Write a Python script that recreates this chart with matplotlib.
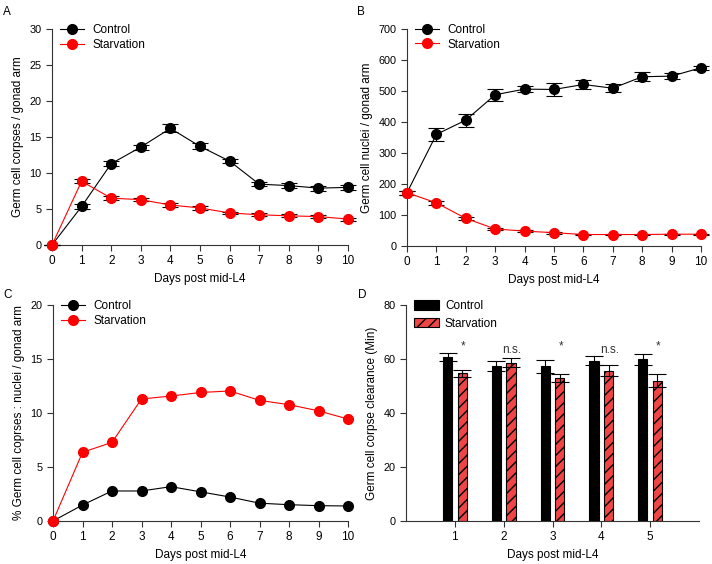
import numpy as np
import matplotlib.pyplot as plt

days = np.arange(0, 11)

# A: germ cell corpses / gonad arm
corpses_ctrl = [0, 5.35, 11.3, 13.6, 16.2, 13.7, 11.65, 8.45, 8.25, 7.9, 8.0]
corpses_ctrl_err = [0, 0.35, 0.3, 0.35, 0.55, 0.4, 0.3, 0.3, 0.3, 0.35, 0.3]
corpses_starv = [0, 8.85, 6.5, 6.3, 5.55, 5.15, 4.45, 4.2, 4.05, 3.95, 3.6]
corpses_starv_err = [0, 0.3, 0.25, 0.25, 0.25, 0.25, 0.2, 0.2, 0.2, 0.2, 0.2]

# B: germ cell nuclei / gonad arm
nuclei_ctrl = [172, 360, 406, 488, 506, 505, 521, 509, 546, 548, 575]
nuclei_ctrl_err = [6, 22, 21, 20, 10, 20, 16, 12, 15, 9, 7]
nuclei_starv = [172, 139, 89, 55, 48, 43, 37, 37, 37, 38, 38]
nuclei_starv_err = [6, 7, 6, 4, 3, 3, 2, 2, 2, 2, 2]

# C: % corpses : nuclei
pct_ctrl = [0, 1.48, 2.78, 2.78, 3.18, 2.7, 2.22, 1.65, 1.51, 1.42, 1.39]
pct_starv = [0, 6.36, 7.28, 11.3, 11.57, 11.9, 12.04, 11.17, 10.77, 10.2, 9.44]

# D: clearance time
clear_days = [1, 2, 3, 4, 5]
clear_ctrl = [60.7, 57.5, 57.4, 59.4, 59.9]
clear_ctrl_err = [1.5, 1.8, 2.4, 1.8, 2.1]
clear_starv = [54.7, 58.7, 53.0, 55.7, 52.0]
clear_starv_err = [1.4, 1.7, 1.5, 2.1, 2.5]
signif = ["*", "n.s.", "*", "n.s.", "*"]

RED = "#ff0000"
FS = 8.5

plt.rcParams["font.family"] = ["Liberation Sans", "DejaVu Sans"]
plt.rcParams["font.size"] = FS

fig = plt.figure(figsize=(7.12, 5.64), dpi=100)
W, H = 712, 564


def ax_at(l, t, r, b):
    return fig.add_axes([l / W, 1 - b / H, (r - l) / W, (b - t) / H])


def style(ax):
    for s in ["top", "right"]:
        ax.spines[s].set_visible(False)
    for s in ["left", "bottom"]:
        ax.spines[s].set_color("#333333")
        ax.spines[s].set_linewidth(0.8)
    ax.tick_params(direction="out", length=4, width=0.8, color="#333333")
    ax.tick_params(axis="x", labelsize=FS)
    ax.tick_params(axis="y", labelsize=7.8)


def line_panel(ax, y1, y2, e1=None, e2=None):
    for y, e, c, z in [(y1, e1, "black", 3), (y2, e2, RED, 4)]:
        ax.plot(days, y, color=c, lw=0.8, marker="o", ms=7, mec=c, mfc=c,
                clip_on=False, zorder=z,
                label="Control" if c == "black" else "Starvation")
        if e is not None:
            ax.errorbar(days, y, yerr=e, fmt="none", ecolor="black", elinewidth=0.8,
                        capsize=6, capthick=0.8, clip_on=False, zorder=z - 0.5)
    ax.set_xlim(0, 10)
    ax.set_xticks(days)
    ax.set_xlabel("Days post mid-L4", fontsize=FS)
    ax.legend(loc="upper left", bbox_to_anchor=(0.0, 1.06), frameon=False,
              fontsize=FS, handlelength=2.0, handletextpad=0.7,
              labelspacing=0.2, borderaxespad=0.3)
    style(ax)


axA = ax_at(52, 29, 348, 245)
line_panel(axA, corpses_ctrl, corpses_starv, corpses_ctrl_err, corpses_starv_err)
axA.set_ylim(0, 30)
axA.set_yticks(range(0, 31, 5))
axA.set_ylabel("Germ cell corpses / gonad arm", fontsize=FS)

axB = ax_at(407, 29, 701, 246)
line_panel(axB, nuclei_ctrl, nuclei_starv, nuclei_ctrl_err, nuclei_starv_err)
axB.set_ylim(0, 700)
axB.set_yticks(range(0, 701, 100))
axB.set_ylabel("Germ cell nuclei / gonad arm", fontsize=FS)

axC = ax_at(53, 305, 348, 521)
line_panel(axC, pct_ctrl, pct_starv)
axC.set_ylim(0, 20)
axC.set_yticks(range(0, 21, 5))
axC.set_ylabel("% Germ cell coprses : nuclei / gonad arm", fontsize=FS)

axD = ax_at(406, 305, 699, 521)
xd = np.array(clear_days)
axD.bar(xd - 0.15, clear_ctrl, width=0.19, color="black", edgecolor="black",
        lw=0.8, label="Control", zorder=2)
axD.bar(xd + 0.15, clear_starv, width=0.19, color="#f04545", edgecolor="black",
        lw=0.8, hatch="///", label="Starvation", zorder=2)
axD.errorbar(xd - 0.15, clear_ctrl, yerr=clear_ctrl_err, fmt="none", ecolor="black",
             elinewidth=0.8, capsize=6.5, capthick=0.8, zorder=3)
axD.errorbar(xd + 0.15, clear_starv, yerr=clear_starv_err, fmt="none", ecolor="black",
             elinewidth=0.8, capsize=6.5, capthick=0.8, zorder=3)
for x, s in zip(xd, signif):
    axD.text(x + 0.17, 64.5 if s == "*" else 63.2, s, ha="center", va="center",
             fontsize=FS, color="#333333")
axD.set_xlim(0, 6)
axD.set_xticks(clear_days)
axD.set_ylim(0, 80)
axD.set_yticks(range(0, 81, 20))
axD.set_xlabel("Days post mid-L4", fontsize=FS)
axD.set_ylabel("Germ cell corpse clearance (Min)", fontsize=FS)
axD.legend(loc="upper left", bbox_to_anchor=(0.0, 1.06), frameon=False,
           fontsize=FS, handlelength=2.1, handleheight=0.9, handletextpad=0.5,
           labelspacing=0.45, borderaxespad=0.3)
style(axD)

for lbl, x, y in [("A", 3, 12), ("B", 357, 12), ("C", 3, 295), ("D", 358, 295)]:
    fig.text(x / W, 1 - y / H, lbl, fontsize=FS, ha="left", va="center")

fig.savefig("out.png", dpi=100)
